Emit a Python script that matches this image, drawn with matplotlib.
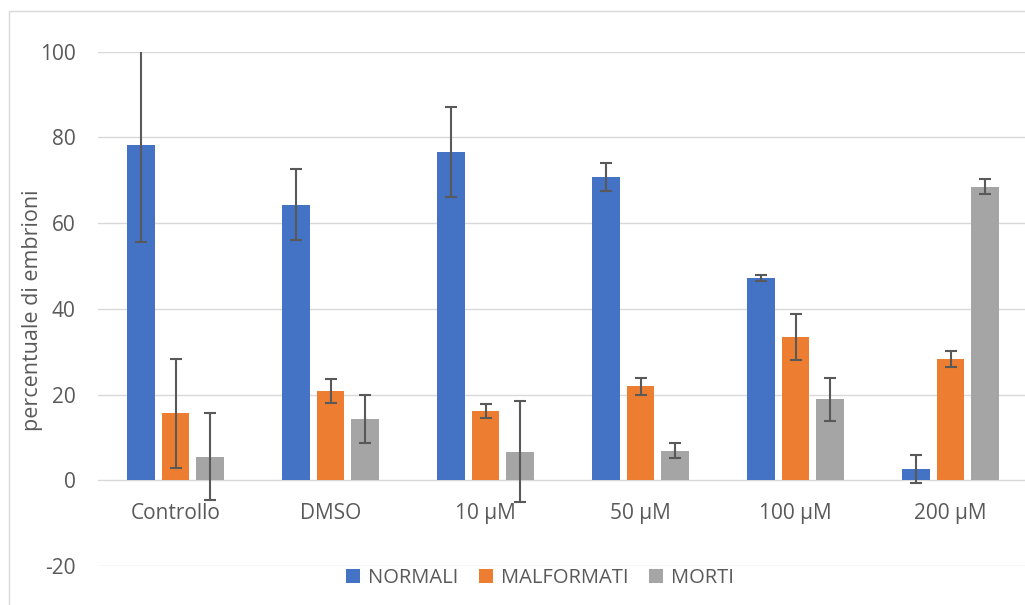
import numpy as np
import matplotlib
matplotlib.use("Agg")
import matplotlib.pyplot as plt
from matplotlib.patches import Rectangle

# data
categories = ["Controllo", "DMSO", "10 µM", "50 µM", "100 µM", "200 µM"]
normali = [78.3, 64.3, 76.6, 70.8, 47.1, 2.6]
normali_err = [22.7, 8.3, 10.5, 3.2, 0.7, 3.2]
malformati = [15.6, 20.9, 16.2, 21.9, 33.5, 28.3]
malformati_err = [12.8, 2.8, 1.7, 1.9, 5.4, 1.8]
morti = [5.5, 14.3, 6.7, 6.9, 18.9, 68.5]
morti_err = [10.1, 5.7, 11.8, 1.8, 5.0, 1.7]

series = [("NORMALI", normali, normali_err, "#4472C4"),
          ("MALFORMATI", malformati, malformati_err, "#ED7D31"),
          ("MORTI", morti, morti_err, "#A5A5A5")]

text_col = "#595959"
grid_col = "#D9D9D9"

plt.rcParams['font.family'] = ['Open Sans', 'DejaVu Sans']
plt.rcParams['axes.unicode_minus'] = False

fig = plt.figure(figsize=(10.25, 6.05), dpi=100)
ax = fig.add_axes([98/1025, 39/605, 1 - 98/1025 + 0.003, (566 - 51.7)/605])

# light border around the chart area
fig.patches.append(Rectangle((9/1025, -0.01), 1.0, 1 - 11/605 + 0.01,
                             transform=fig.transFigure, fill=False,
                             edgecolor=grid_col, linewidth=1))

x = np.arange(len(categories))
width = 0.177
step = 0.223
for i, (name, vals, errs, col) in enumerate(series):
    ax.bar(x + (i - 1) * step, vals, width, color=col, label=name, zorder=2)
    ax.errorbar(x + (i - 1) * step, vals, yerr=errs, fmt="none",
                ecolor=text_col, elinewidth=1.5, capsize=4, capthick=1.5, zorder=3)

ax.set_xlim(-0.5, len(categories) - 0.5)
ax.set_ylim(-20, 100)
ax.set_yticks(range(-20, 101, 20))
ax.yaxis.grid(True, color=grid_col, linewidth=1)
ax.set_axisbelow(True)
for s in ax.spines.values():
    s.set_visible(False)
ax.tick_params(axis="y", length=0, pad=16, labelsize=15, labelcolor=text_col)
ax.set_xticks([])

# category labels sit just under the zero line
for xi, lab in zip(x, categories):
    ax.annotate(lab, (xi, 0), xytext=(0, -16), textcoords="offset points",
                ha="center", va="top", fontsize=15, color=text_col)

fig.text(33/1025, 1 - 310/605, "percentuale di embrioni", rotation=90,
         ha="center", va="center", fontsize=15.5, color=text_col)

fig.legend(loc="center", bbox_to_anchor=(540/1025, 1 - 578/605), ncol=3,
           frameon=False, fontsize=14.5, labelcolor=text_col,
           handlelength=0.7, handleheight=0.7, handletextpad=0.4,
           columnspacing=1.0)

fig.savefig("out.png", dpi=100)
